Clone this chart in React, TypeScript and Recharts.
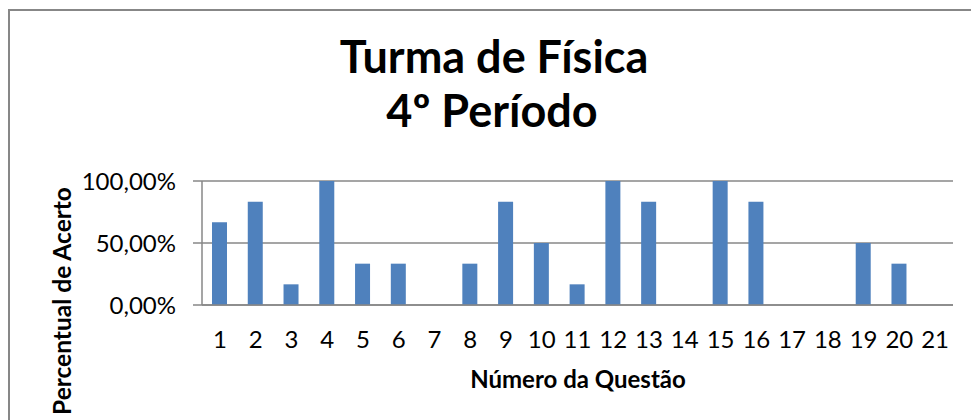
import { Bar, BarChart, CartesianGrid, XAxis, YAxis } from "recharts";

const questoes = ["1", "2", "3", "4", "5", "6", "7", "8", "9", "10", "11", "12", "13", "14", "15", "16", "17", "18", "19", "20", "21"];
const acertos = [0.6667, 0.8333, 0.1667, 1, 0.3333, 0.3333, 0, 0.3333, 0.8333, 0.5, 0.1667, 1, 0.8333, 0, 1, 0.8333, 0, 0, 0.5, 0.3333, 0];
const yTicks = [0, 0.5, 1];

const titulo = ["Turma de Física", "4º Período"];
const tituloX = "Número da Questão";
const tituloY = "Percentual de Acerto";

const data = questoes.map((q, i) => ({ q, acerto: acertos[i] }));

const FONT = "Lato, 'Open Sans', sans-serif";
const GRID = "#878787";

const pct = (v: number) => (v * 100).toFixed(2).replace(".", ",") + "%";

export default function App() {
  return (
    <div style={{ position: "absolute", left: 0, top: 0, width: 971, height: 420, background: "#fff", fontFamily: FONT }}>
      <BarChart width={971} height={420} data={data} margin={{ top: 181, right: 18, bottom: 85, left: 0 }}>
        <CartesianGrid vertical={false} stroke={GRID} strokeWidth={1.5} />
        <XAxis
          dataKey="q"
          height={30}
          axisLine={{ stroke: GRID, strokeWidth: 1.5 }}
          tickLine={false}
          tickSize={0}
          tickMargin={26}
          interval={0}
          tick={{ fill: "#000", fontSize: 24, fontFamily: FONT }}
        />
        <YAxis
          width={202}
          domain={[0, 1]}
          ticks={yTicks}
          tickFormatter={pct}
          axisLine={{ stroke: GRID, strokeWidth: 1.5 }}
          tickLine={{ stroke: GRID, strokeWidth: 1.5 }}
          tickSize={9}
          tickMargin={17}
          tick={{ fill: "#000", fontSize: 24, fontFamily: FONT }}
        />
        <Bar dataKey="acerto" fill="#4F81BD" barSize={15} isAnimationActive={false} />
      </BarChart>
      <svg width={971} height={420} style={{ position: "absolute", left: 0, top: 0, pointerEvents: "none" }}>
        <rect x={9} y={10} width={990} height={440} fill="none" stroke={GRID} strokeWidth={2} />
        <text x={494} y={73} textAnchor="middle" fontFamily={FONT} fontWeight="bold" fontSize={45} fill="#000">
          {titulo[0]}
        </text>
        <text x={492} y={127} textAnchor="middle" fontFamily={FONT} fontWeight="bold" fontSize={45} fill="#000">
          {titulo[1]}
        </text>
        <text x={578} y={388} textAnchor="middle" fontFamily={FONT} fontWeight="bold" fontSize={24} fill="#000">
          {tituloX}
        </text>
        <text
          x={0}
          y={0}
          transform="translate(71 301) rotate(-90)"
          textAnchor="middle"
          fontFamily={FONT}
          fontWeight="bold"
          fontSize={24.5}
          fill="#000"
        >
          {tituloY}
        </text>
      </svg>
    </div>
  );
}
